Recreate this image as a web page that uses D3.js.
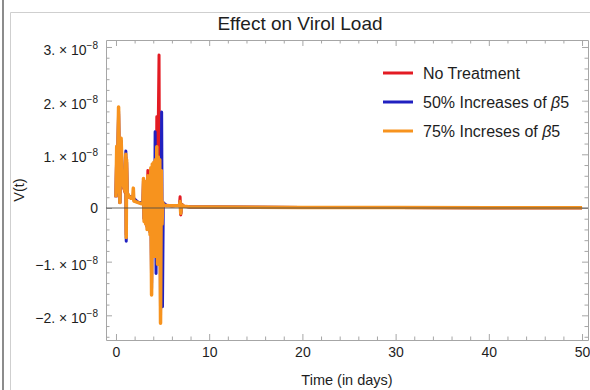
<!DOCTYPE html>
<html>
<head>
<meta charset="utf-8">
<script src="https://cdn.jsdelivr.net/npm/d3@7"></script>
<style>
  body { margin: 0; background: #fff; }
  text { font-family: "Liberation Sans", Arial, sans-serif; fill: #1e1e1e; }
</style>
</head>
<body>
<div id="chart"></div>
<script>
// V(t) values are in units of 1e-8, time in days
const noTreatT = [0, 0.08, 0.15, 0.22, 0.28, 0.34, 0.42, 0.48, 0.55, 0.62, 0.7, 0.85, 1.0, 1.06, 1.1, 1.14, 1.2, 1.4, 1.8, 2.4, 2.9,
  2.95, 3.02, 3.1, 3.18, 3.26, 3.34, 3.42, 3.5, 3.58, 3.66, 3.74, 3.82, 3.9, 3.98, 4.06, 4.14, 4.22, 4.3, 4.38, 4.46, 4.54, 4.62, 4.7, 4.78, 4.86, 4.94, 5.02,
  5.4, 6.0, 6.8, 6.88, 6.95, 7.05, 7.3, 8, 10, 15, 20, 30, 40, 50];
const noTreatV = [0.2, 1.05, 0.3, 1.15, 1.75, 0.95, 0.1, 1.1, 1.2, 0.85, 0.45, 0.36, 0.28, 0.95, -0.5, 0.85, 0.26, 0.2, 0.18, 0.1, 0.09,
  0.5, -0.2, 0.45, -0.25, 0.4, -0.35, 0.7, -0.3, 0.5, -0.45, 0.7, -1.4, 0.75, -0.65, 0.8, -0.85, 0.85, -0.7, 1.7, -0.95, 1.6, 2.85, -1.0, 0.8, -0.5, 0.1, 0.05,
  0.05, 0.04, 0.05, 0.21, -0.13, 0.07, 0.03, 0.02, 0.02, 0.015, 0.01, 0.008, 0.006, 0.005];

const beta50T = [0, 0.08, 0.15, 0.22, 0.28, 0.34, 0.42, 0.48, 0.55, 0.62, 0.7, 0.85, 1.0, 1.06, 1.1, 1.14, 1.2, 1.4, 1.8, 2.4, 2.9,
  2.95, 3.02, 3.1, 3.18, 3.26, 3.34, 3.42, 3.5, 3.58, 3.66, 3.74, 3.82, 3.9, 3.98, 4.06, 4.14, 4.2, 4.3, 4.38, 4.46, 4.54, 4.62, 4.7, 4.78, 4.9, 4.99, 5.08,
  5.4, 6.0, 6.8, 6.88, 6.95, 7.05, 7.3, 8, 10, 15, 20, 30, 40, 50];
const beta50V = [0.2, 1.1, 0.3, 1.2, 1.8, 1.0, 0.1, 1.15, 1.25, 0.9, 0.5, 0.38, 0.3, 1.06, -0.62, 0.85, 0.28, 0.22, 0.2, 0.1, 0.1,
  0.5, -0.2, 0.45, -0.25, 0.4, -0.35, 0.55, -0.3, 0.5, -0.45, 0.7, -1.5, 0.75, -0.65, 0.8, -0.85, 1.42, -1.22, 1.1, -1.0, 0.9, -0.55, 0.85, -2.0, 1.79, -1.84, 0.1,
  0.05, 0.04, 0.05, 0.12, -0.1, 0.06, 0.03, 0.02, 0.02, 0.015, 0.01, 0.008, 0.006, 0.005];

const beta75T = [0, 0.08, 0.15, 0.22, 0.28, 0.34, 0.42, 0.48, 0.55, 0.62, 0.7, 0.85, 1.0, 1.06, 1.1, 1.14, 1.2, 1.4, 1.6, 1.8, 1.86, 1.92, 2.1, 2.4, 2.7, 2.9,
  2.95, 3.02, 3.1, 3.18, 3.26, 3.34, 3.42, 3.5, 3.58, 3.66, 3.74, 3.82, 3.9, 3.98, 4.06, 4.14, 4.22, 4.3, 4.38, 4.46, 4.54, 4.62, 4.7, 4.78, 4.86, 4.94, 5.02, 5.1,
  5.4, 6.0, 6.6, 6.8, 6.88, 6.95, 7.05, 7.3, 8, 10, 15, 20, 30, 40, 50];
const beta75V = [0.2, 1.15, 0.3, 1.25, 1.88, 1.0, 0.1, 1.2, 1.3, 0.9, 0.5, 0.38, 0.3, 1.0, -0.55, 0.9, 0.28, 0.22, 0.18, 0.2, 0.37, 0.13, 0.12, 0.1, 0.08, 0.1,
  0.55, -0.25, 0.5, -0.3, 0.45, -0.4, 0.6, -0.35, 0.55, -0.5, 0.75, -1.62, 0.82, -0.7, 0.85, -0.9, 0.9, -0.75, 1.14, -1.05, 0.95, -0.6, 0.9, -2.15, 0.7, -0.3, 0.1, 0.05,
  0.04, 0.04, 0.04, 0.05, 0.12, -0.1, 0.06, 0.03, 0.02, 0.02, 0.015, 0.01, 0.008, 0.006, 0.005];

const seriesNames = ["No Treatment", "50% Increases of β5", "75% Increses of β5"];
const seriesColors = ["#e31b23", "#2020c0", "#f7931e"];

const xTicks = [0, 10, 20, 30, 40, 50];
const yTicks = [-2, -1, 0, 1, 2, 3];

const W = 590, H = 390;
const frame = { left: 106, right: 588, top: 40, bottom: 340 };

const svg = d3.select("#chart").append("svg")
  .attr("width", W)
  .attr("height", H);

// page borders around the figure
svg.append("rect").attr("x", 2).attr("y", 0).attr("width", 2).attr("height", H).attr("fill", "#8c8c8c");
svg.append("path").attr("d", "M10.5," + H + "V12.5H" + W).attr("fill", "none").attr("stroke", "#cfcfcf");

const x = d3.scaleLinear().domain([-1.07, 50.64]).range([frame.left, frame.right]);
const y = d3.scaleLinear().domain([-2.46, 3.13]).range([frame.bottom, frame.top]);

const xMinor = d3.range(0, 51, 2).filter(v => v % 10 !== 0);
const yMinor = d3.range(-24, 31, 2).filter(v => v % 10 !== 0).map(v => v / 10);

const axisColor = "#a6a6a6";

function styleAxis(g) {
  g.selectAll("path, line").attr("stroke", axisColor);
  g.selectAll("text").attr("fill", "#1e1e1e");
}

// bottom
svg.append("g")
  .attr("transform", "translate(0," + frame.bottom + ")")
  .call(d3.axisBottom(x).tickValues(xMinor).tickSize(-3.5).tickSizeOuter(0).tickFormat(""))
  .call(styleAxis);
svg.append("g")
  .attr("transform", "translate(0," + frame.bottom + ")")
  .call(d3.axisBottom(x).tickValues(xTicks).tickSize(-6).tickSizeOuter(0).tickPadding(7))
  .call(g => g.select(".domain").remove())
  .call(g => g.selectAll("text").style("font-family", "Liberation Sans, Arial, sans-serif").style("font-size", "14px"))
  .call(styleAxis);

// top
svg.append("g")
  .attr("transform", "translate(0," + frame.top + ")")
  .call(d3.axisTop(x).tickValues(xMinor).tickSize(-3.5).tickSizeOuter(0).tickFormat(""))
  .call(styleAxis);
svg.append("g")
  .attr("transform", "translate(0," + frame.top + ")")
  .call(d3.axisTop(x).tickValues(xTicks).tickSize(-6).tickSizeOuter(0).tickFormat(""))
  .call(g => g.select(".domain").remove())
  .call(styleAxis);

// left
svg.append("g")
  .attr("transform", "translate(" + frame.left + ",0)")
  .call(d3.axisLeft(y).tickValues(yMinor).tickSize(-3.5).tickSizeOuter(0).tickFormat(""))
  .call(styleAxis);
const leftAxis = svg.append("g")
  .attr("transform", "translate(" + frame.left + ",0)")
  .call(d3.axisLeft(y).tickValues(yTicks).tickSize(-6).tickSizeOuter(0).tickPadding(8).tickFormat(""))
  .call(g => g.select(".domain").remove())
  .call(styleAxis);

leftAxis.selectAll(".tick text").each(function(d) {
  const t = d3.select(this)
    .style("font-family", "Liberation Sans, Arial, sans-serif")
    .style("font-size", "14px")
    .attr("dy", "0.32em");
  if (d === 0) {
    t.text("0");
    return;
  }
  const lead = (d < 0 ? "\u2212" + Math.abs(d) : d) + ". \u00d7 10";
  t.append("tspan").text(lead);
  t.append("tspan").attr("dy", "-6").style("font-size", "10px").text("\u22128");
  t.attr("x", -8).attr("transform", "translate(0,3)");
});

// right
svg.append("g")
  .attr("transform", "translate(" + frame.right + ",0)")
  .call(d3.axisRight(y).tickValues(yMinor).tickSize(-3.5).tickSizeOuter(0).tickFormat(""))
  .call(styleAxis);
svg.append("g")
  .attr("transform", "translate(" + frame.right + ",0)")
  .call(d3.axisRight(y).tickValues(yTicks).tickSize(-6).tickSizeOuter(0).tickFormat(""))
  .call(g => g.select(".domain").remove())
  .call(styleAxis);

// data lines
svg.append("clipPath").attr("id", "plotClip")
  .append("rect")
  .attr("x", frame.left).attr("y", frame.top)
  .attr("width", frame.right - frame.left).attr("height", frame.bottom - frame.top);

const line = d3.line().x(d => x(d[0])).y(d => y(d[1]));
const series = [
  d3.zip(noTreatT, noTreatV),
  d3.zip(beta50T, beta50V),
  d3.zip(beta75T, beta75V)
];
const widths = [3, 3, 3.5];

const plot = svg.append("g").attr("clip-path", "url(#plotClip)");
series.forEach((s, i) => {
  plot.append("path")
    .datum(s)
    .attr("d", line)
    .attr("fill", "none")
    .attr("stroke", seriesColors[i])
    .attr("stroke-width", widths[i])
    .attr("stroke-linejoin", "round");
});

// zero axis line on top
plot.append("line")
  .attr("x1", frame.left).attr("x2", frame.right)
  .attr("y1", y(0)).attr("y2", y(0))
  .attr("stroke", "#4a4a4a")
  .attr("stroke-opacity", 0.85)
  .attr("stroke-width", 1.1);

// legend
const legend = svg.append("g");
seriesNames.forEach((name, i) => {
  const ly = 73 + i * 29;
  legend.append("line")
    .attr("x1", 383).attr("x2", 413)
    .attr("y1", ly).attr("y2", ly)
    .attr("stroke", seriesColors[i])
    .attr("stroke-width", 3);
  const t = legend.append("text")
    .attr("x", 423).attr("y", ly + 5.5)
    .style("font-size", "16px");
  const parts = name.split("β");
  t.append("tspan").text(parts[0]);
  if (parts.length > 1) {
    t.append("tspan").style("font-style", "italic").text("β");
    t.append("tspan").text(parts[1]);
  }
});

// titles
svg.append("text")
  .attr("x", 300).attr("y", 30)
  .attr("text-anchor", "middle")
  .style("font-size", "19px")
  .text("Effect on Virol Load");

svg.append("text")
  .attr("x", 347).attr("y", 385)
  .attr("text-anchor", "middle")
  .style("font-size", "14.5px")
  .text("Time (in days)");

svg.append("text")
  .attr("transform", "translate(24,190) rotate(-90)")
  .attr("text-anchor", "middle")
  .style("font-size", "14.5px")
  .text("V(t)");
</script>
</body>
</html>
